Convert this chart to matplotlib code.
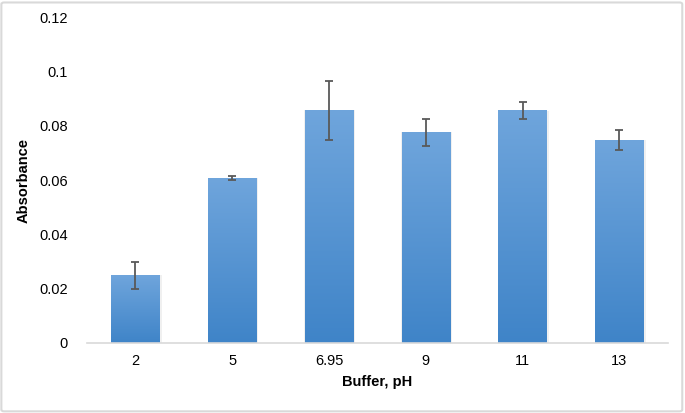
import numpy as np
import matplotlib.pyplot as plt
from matplotlib.colors import LinearSegmentedColormap
from matplotlib.patches import FancyBboxPatch

plt.rcParams['font.family'] = ['Liberation Sans', 'DejaVu Sans']

ph_labels = ['2', '5', '6.95', '9', '11', '13']
absorbance = [0.0250, 0.0606, 0.0856, 0.0776, 0.0855, 0.0747]
errors = [0.0050, 0.0007, 0.0108, 0.0049, 0.0031, 0.0038]

fig = plt.figure(figsize=(6.85, 4.13), dpi=100)
ax = fig.add_axes([0.127, 0.1695, 0.848, 0.7893])

# thin grey frame round the whole chart
frame = FancyBboxPatch((0.002, 0.004), 0.994, 0.99, boxstyle='round,pad=0,rounding_size=0.004',
                       transform=fig.transFigure, fill=False, edgecolor='#d9d9d9', linewidth=1.5)
fig.patches.append(frame)

x = np.arange(len(ph_labels))
width = 0.5
grad = LinearSegmentedColormap.from_list('bar', ['#3f84c8', '#6fa5dc'])
g = np.linspace(0, 1, 256).reshape(-1, 1)

bars = ax.bar(x, absorbance, width=width, color='none', edgecolor='none', zorder=2)
for b in bars:
    x0, y0 = b.get_x(), b.get_y()
    w, h = b.get_width(), b.get_height()
    # soft shadow
    ax.bar(x0 + w / 2 + 0.008, h, width=w + 0.025, bottom=y0, color='#000000', alpha=0.06, zorder=1)
    ax.imshow(g, cmap=grad, origin='lower', aspect='auto', extent=[x0, x0 + w, y0, y0 + h], zorder=2)

ax.errorbar(x, absorbance, yerr=errors, fmt='none', ecolor='#595959', elinewidth=1.3,
            capsize=2.8, capthick=1.3, zorder=3)

ax.set_xlim(-0.5, len(ph_labels) - 0.5)
ax.set_ylim(0, 0.12)
ax.set_yticks([0, 0.02, 0.04, 0.06, 0.08, 0.1, 0.12])
ax.set_yticklabels(['0', '0.02', '0.04', '0.06', '0.08', '0.1', '0.12'])
ax.set_xticks(x)
ax.set_xticklabels(ph_labels)
ax.tick_params(axis='both', length=0, labelsize=10.5, colors='#000000')
ax.tick_params(axis='y', pad=14)
ax.tick_params(axis='x', pad=8)

for s in ['top', 'right', 'left']:
    ax.spines[s].set_visible(False)
ax.spines['bottom'].set_color('#d9d9d9')
ax.spines['bottom'].set_linewidth(1.2)

ax.set_xlabel('Buffer, pH', fontsize=10.5, fontweight='bold', labelpad=5)
ax.set_ylabel('Absorbance', fontsize=10.5, fontweight='bold', labelpad=6)

fig.savefig('out.png', dpi=100)
